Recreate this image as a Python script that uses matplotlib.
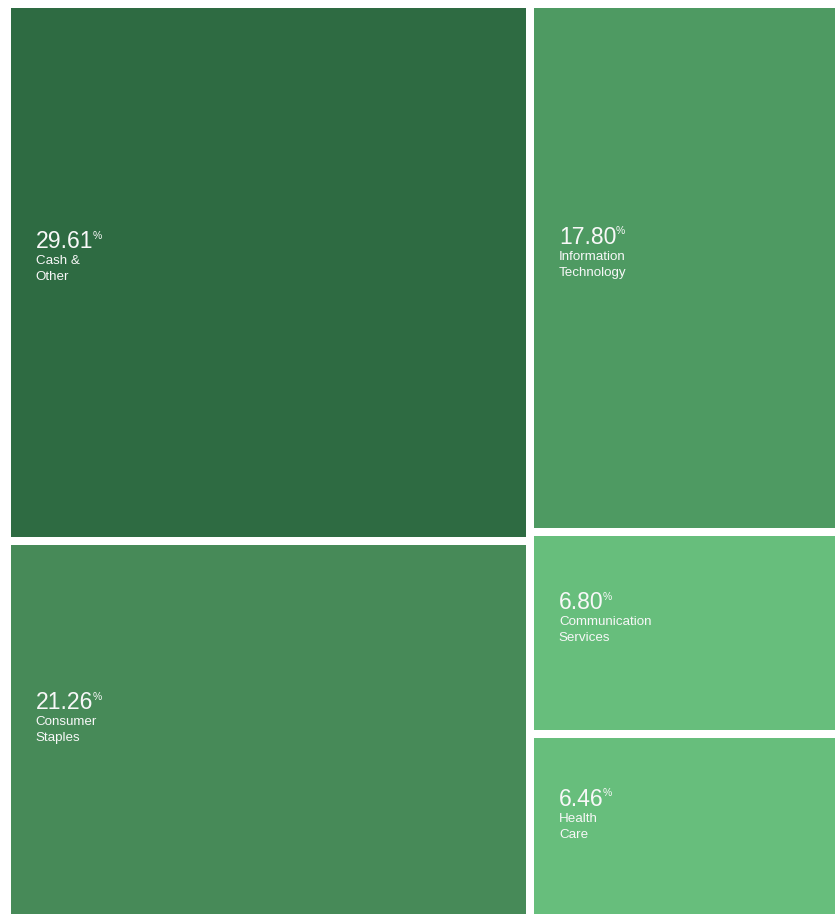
import matplotlib.pyplot as plt
from matplotlib.patches import Rectangle

# sector weights (%)
sectors = ['Cash &\nOther', 'Consumer\nStaples', 'Information\nTechnology',
           'Communication\nServices', 'Health\nCare']
weights = [29.61, 21.26, 17.80, 6.80, 6.46]
colors = ['#2e6b42', '#478a58', '#4e9a62', '#67be7c', '#67be7c']
# which sectors go in which column of the treemap
columns = [[0, 1], [2, 3, 4]]

W_PX, H_PX, DPI = 835, 914, 100
fig = plt.figure(figsize=(W_PX / DPI, H_PX / DPI), dpi=DPI)
ax = fig.add_axes([0, 0, 1, 1])
ax.set_xlim(0, W_PX)
ax.set_ylim(H_PX, 0)
ax.axis('off')

# layout region (extends a bit past the figure, gets clipped like the original)
x0, y0, W, H = 7, 4, 843, 922
pad = 4
total = sum(weights)

x = x0
for col in columns:
    col_sum = sum(weights[i] for i in col)
    cw = W * col_sum / total
    y = y0
    for i in col:
        rh = H * weights[i] / col_sum
        rx, ry, rw, rhh = x + pad, y + pad, cw - 2 * pad, rh - 2 * pad
        ax.add_patch(Rectangle((rx, ry), rw, rhh, facecolor=colors[i], edgecolor='none'))
        cy = ry + rhh / 2
        num = ax.text(rx + 24.5, cy - 24.5, f'{weights[i]:.2f}', color='#f8f8f8',
                      fontsize=16.6, family='Liberation Sans', va='baseline', ha='left')
        ax.annotate('%', xy=(1, 1), xycoords=num, xytext=(-0.5, -0.5), textcoords='offset points',
                    color='#f8f8f8', fontsize=7.5, family='Liberation Sans', va='top', ha='left')
        ax.text(rx + 24.5, cy - 17, sectors[i], color='#f8f8f8', fontsize=9.6,
                family='Liberation Sans', va='top', ha='left', linespacing=1.38)
        y += rh
    x += cw

fig.savefig('out.png', dpi=DPI)
